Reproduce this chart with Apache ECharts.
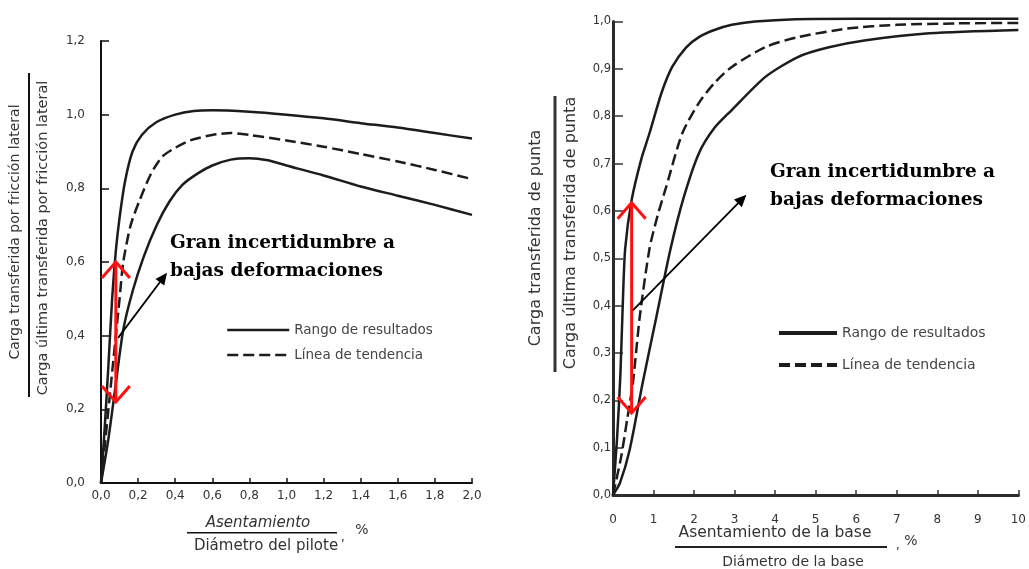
<!DOCTYPE html>
<html><head><meta charset="utf-8">
<script src="https://cdn.jsdelivr.net/npm/echarts@6/dist/echarts.min.js"></script>
<style>html,body{margin:0;padding:0;background:#fff}#c{width:1029px;height:569px}</style>
</head><body><div id="c"></div>
<script>
// ---- data ----
const seriesNames = ['Rango de resultados', 'Línea de tendencia'];
// Left chart: fricción lateral vs Asentamiento/Diámetro del pilote (%)
const leftUpper = [[0,0],[0.02,0.15],[0.04,0.32],[0.06,0.5],[0.08,0.63],[0.1,0.72],[0.13,0.82],[0.17,0.9],[0.22,0.945],[0.3,0.98],[0.4,1.0],[0.5,1.01],[0.6,1.012],[0.8,1.008],[1.0,1.0],[1.2,0.99],[1.4,0.977],[1.6,0.965],[1.8,0.95],[2.0,0.935]];
const leftTrend = [[0,0],[0.05,0.25],[0.1,0.5],[0.12,0.6],[0.16,0.7],[0.21,0.77],[0.27,0.84],[0.33,0.886],[0.4,0.91],[0.48,0.93],[0.6,0.945],[0.7,0.95],[0.8,0.945],[1.0,0.93],[1.2,0.913],[1.4,0.893],[1.6,0.873],[1.8,0.85],[2.0,0.825]];
const leftLower = [[0,0],[0.04,0.12],[0.08,0.27],[0.12,0.416],[0.17,0.52],[0.23,0.614],[0.3,0.7],[0.37,0.765],[0.44,0.81],[0.52,0.84],[0.6,0.862],[0.7,0.878],[0.8,0.882],[0.9,0.876],[1.0,0.862],[1.2,0.835],[1.4,0.805],[1.6,0.78],[1.8,0.755],[2.0,0.728]];
// Right chart: punta vs Asentamiento/Diámetro de la base (%)
const rightUpper = [[0,0],[0.1,0.12],[0.18,0.25],[0.24,0.4],[0.3,0.52],[0.46,0.623],[0.7,0.71],[0.9,0.764],[1.2,0.85],[1.46,0.904],[1.8,0.945],[2.12,0.967],[2.5,0.982],[2.93,0.993],[3.5,1.0],[4.5,1.005],[6,1.006],[8,1.006],[10,1.006]];
const rightTrend = [[0,0],[0.2,0.08],[0.35,0.16],[0.49,0.236],[0.66,0.376],[0.9,0.52],[1.1,0.59],[1.31,0.65],[1.71,0.764],[2.12,0.828],[2.5,0.87],[2.93,0.904],[3.76,0.946],[4.56,0.967],[5.78,0.985],[7,0.993],[8.5,0.996],[10,0.997]];
const rightLower = [[0,0],[0.17,0.025],[0.41,0.095],[0.73,0.236],[1.07,0.376],[1.42,0.52],[1.75,0.63],[2.12,0.722],[2.5,0.775],[2.93,0.813],[3.76,0.883],[4.56,0.925],[5.3,0.945],[6.2,0.96],[7.8,0.975],[10,0.982]];
// annotation anchors (data coordinates)
const leftRedArrow = [[0.08,0.6],[0.08,0.22]];
const leftBlackArrow = [[0.092,0.394],[0.356,0.571]];
const rightRedArrow = [[0.46,0.617],[0.46,0.173]];
const rightBlackArrow = [[0.49,0.39],[3.29,0.634]];
const annotationLines = ['Gran incertidumbre a', 'bajas deformaciones'];

const comma = v => v.toFixed(1).replace('.', ',');
const lab = {fontFamily:'DejaVu Sans', fontSize:12, color:'#333'};
const ink = '#1c1c1c';

const chart = echarts.init(document.getElementById('c'));
function line(name, data, xi, dashed, w){
  return {type:'line', name, data, xAxisIndex:xi, yAxisIndex:xi, symbol:'none', showSymbol:false,
    smooth:0.25, silent:true, clip:false, itemStyle:{color:ink},
    lineStyle:{color:ink, width:w, type: dashed ? [11,5] : 'solid'}, z:3};
}
chart.setOption({
  animation:false,
  backgroundColor:'#fff',
  grid:[{left:101, top:41, width:371, height:442},{left:613, top:21.5, width:410, height:473.5}],
  xAxis:[
    {gridIndex:0, type:'value', min:0, max:2, interval:0.2, axisLine:{lineStyle:{color:'#111', width:2}},
     axisTick:{inside:true, length:5, lineStyle:{color:'#111', width:1.5}}, splitLine:{show:false},
     axisLabel:Object.assign({margin:7, formatter:comma}, lab)},
    {gridIndex:1, type:'value', min:0, max:10, interval:1, axisLine:{lineStyle:{color:'#2a2a2a', width:3}},
     axisTick:{inside:true, length:5, lineStyle:{color:'#333', width:1.5}}, splitLine:{show:false},
     axisLabel:Object.assign({margin:19}, lab)}
  ],
  yAxis:[
    {gridIndex:0, type:'value', min:0, max:1.2, interval:0.2, axisLine:{show:true, lineStyle:{color:'#111', width:2}},
     axisTick:{show:true, inside:true, length:8, lineStyle:{color:'#111', width:1.5}}, splitLine:{show:false},
     axisLabel:Object.assign({margin:16, formatter:comma}, lab)},
    {gridIndex:1, type:'value', min:0, max:1, interval:0.1, axisLine:{show:true, lineStyle:{color:'#2a2a2a', width:3}},
     axisTick:{show:true, inside:true, length:10, lineStyle:{color:'#333', width:1.5}}, splitLine:{show:false},
     axisLabel:Object.assign({margin:2, formatter:comma}, lab, {fontSize:11.5})}
  ],
  legend:[
    {left:226, top:323, padding:0, orient:'vertical', itemWidth:62, itemHeight:14, itemGap:11, selectedMode:false,
     data:seriesNames, textStyle:{fontFamily:'DejaVu Sans', fontSize:13.5, color:'#444'},
     itemStyle:{opacity:0}, lineStyle:{width:2.5, color:ink}},
    {left:777, top:326, padding:0, orient:'vertical', itemWidth:58, itemHeight:14, itemGap:18, selectedMode:false,
     data:seriesNames, textStyle:{fontFamily:'DejaVu Sans', fontSize:14, color:'#444'},
     itemStyle:{opacity:0}, lineStyle:{width:4, color:ink}}
  ],
  series:[
    line(seriesNames[0], leftUpper, 0, false, 2.5),
    line(seriesNames[1], leftTrend, 0, true, 2.5),
    line(seriesNames[0], leftLower, 0, false, 2.5),
    line(seriesNames[0], rightUpper, 1, false, 2.5),
    line(seriesNames[1], rightTrend, 1, true, 2.5),
    line(seriesNames[0], rightLower, 1, false, 2.5)
  ]
});

const px = (gi, p) => chart.convertToPixel({gridIndex:gi}, p);
function redArrow(gi, pts){
  const a = px(gi, pts[0]), b = px(gi, pts[1]);
  const s = {stroke:'#ff1010', lineWidth:3, fill:null};
  return [
    {type:'line', shape:{x1:a[0], y1:a[1], x2:b[0], y2:b[1]}, style:s, z:10},
    {type:'polyline', shape:{points:[[a[0]-14,a[1]+16],[a[0],a[1]],[a[0]+14,a[1]+16]]}, style:s, z:10},
    {type:'polyline', shape:{points:[[b[0]-14,b[1]-16],[b[0],b[1]],[b[0]+14,b[1]-16]]}, style:s, z:10}
  ];
}
function blackArrow(gi, pts){
  const a = px(gi, pts[0]), b = px(gi, pts[1]);
  const ang = Math.atan2(b[1]-a[1], b[0]-a[0]);
  const L = 12, W = 5.5;
  const bx = b[0]-L*Math.cos(ang), by = b[1]-L*Math.sin(ang);
  const nx = -Math.sin(ang), ny = Math.cos(ang);
  return [
    {type:'line', shape:{x1:a[0], y1:a[1], x2:bx, y2:by}, style:{stroke:'#000', lineWidth:1.8}, z:10},
    {type:'polygon', shape:{points:[[b[0],b[1]],[bx+nx*W,by+ny*W],[bx-nx*W,by-ny*W]]}, style:{fill:'#000'}, z:10}
  ];
}
function txt(x, y, text, o){
  return {type:'text', x, y, z:11, style:Object.assign({text, fontFamily:'DejaVu Sans', fontSize:12, fill:'#333', align:'center', verticalAlign:'middle'}, o||{})};
}
function rtxt(x, y, text, fs){
  return {type:'text', x, y, rotation:Math.PI/2, z:11, style:{text, fontFamily:'DejaVu Sans', fontSize:fs, fill:'#333', align:'center', verticalAlign:'middle'}};
}
const serif = {fontFamily:'DejaVu Serif', fontSize:18.5, fontWeight:'bold', fill:'#000', align:'left'};
const g = [].concat(
  redArrow(0, leftRedArrow), blackArrow(0, leftBlackArrow),
  redArrow(1, rightRedArrow), blackArrow(1, rightBlackArrow),
  [
    txt(170, 243, annotationLines[0], serif), txt(170, 271, annotationLines[1], serif),
    txt(770, 172, annotationLines[0], serif), txt(770, 200, annotationLines[1], serif),
    // left y title
    rtxt(15, 232, 'Carga transferida por fricción lateral', 14),
    {type:'rect', shape:{x:28, y:73, width:2, height:324}, style:{fill:'#111'}},
    rtxt(43, 238, 'Carga última transferida por fricción lateral', 14.5),
    // left x title
    txt(258, 523, 'Asentamiento', {fontSize:15, fontStyle:'italic'}),
    {type:'rect', shape:{x:187, y:532, width:150, height:1.5}, style:{fill:'#111'}},
    txt(266, 546, 'Diámetro del pilote', {fontSize:15}),
    txt(343, 538, ',', {fontSize:12}),
    txt(362, 530, '%', {fontSize:14}),
    // right y title
    rtxt(536, 238, 'Carga transferida de punta', 16),
    {type:'rect', shape:{x:553.5, y:96, width:3, height:276}, style:{fill:'#333'}},
    rtxt(571, 233, 'Carga última transferida de punta', 16),
    // right x title
    txt(775, 533, 'Asentamiento de la base', {fontSize:15.5}),
    {type:'rect', shape:{x:675, y:546, width:212, height:2}, style:{fill:'#222'}},
    txt(793, 562, 'Diámetro de la base', {fontSize:14}),
    txt(898, 546, ',', {fontSize:12}),
    txt(911, 541, '%', {fontSize:14})
  ]
);
chart.setOption({graphic:g});
</script></body></html>
